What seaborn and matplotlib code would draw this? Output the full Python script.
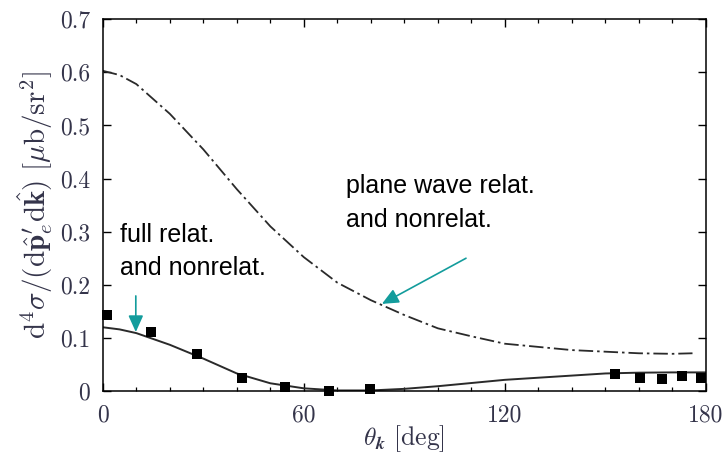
import matplotlib
matplotlib.use("Agg")
import matplotlib.pyplot as plt
import seaborn as sns
import pandas as pd
from matplotlib.ticker import MultipleLocator

# ---- data ----
theta_pw = [0, 5, 10, 20, 30, 40, 50, 60, 70, 80, 90, 100, 110, 120, 130, 140, 150, 160, 170, 176]
plane_wave = [0.603, 0.595, 0.578, 0.522, 0.455, 0.380, 0.310, 0.252, 0.204, 0.171, 0.143, 0.118,
              0.103, 0.089, 0.083, 0.077, 0.074, 0.071, 0.070, 0.071]

theta_full = [0, 5, 10, 20, 30, 40, 50, 60, 70, 80, 90, 100, 110, 120, 130, 140, 150, 160, 170, 180]
full_relat = [0.120, 0.116, 0.109, 0.087, 0.061, 0.033, 0.0145, 0.005, 0.001, 0.001, 0.004, 0.009,
              0.015, 0.021, 0.025, 0.029, 0.033, 0.0345, 0.035, 0.035]

theta_exp = [1.3, 14.5, 28, 41.4, 54.5, 67.5, 79.7, 153, 160.3, 167, 173, 178.5]
sigma_exp = [0.143, 0.112, 0.070, 0.025, 0.008, 0.000, 0.003, 0.032, 0.024, 0.022, 0.028, 0.025]

x_ticks = [0, 60, 120, 180]
y_ticks = [0, 0.1, 0.2, 0.3, 0.4, 0.5, 0.6, 0.7]
y_tick_labels = ["0", "0.1", "0.2", "0.3", "0.4", "0.5", "0.6", "0.7"]

label_full = ["full relat.", "and nonrelat."]
label_pw = ["plane wave relat.", "and nonrelat."]

# ---- style ----
sns.set_theme(style="ticks")
plt.rcParams["mathtext.fontset"] = "cm"
plt.rcParams["font.family"] = ["cmr10", "DejaVu Serif"]
plt.rcParams["axes.formatter.use_mathtext"] = True

TEAL = "#139c9c"
LABEL_COL = "#34344a"

fig = plt.figure(figsize=(7.24, 4.55), dpi=100)
ax = fig.add_axes([0.142, 0.1407, 0.833, 0.8169])

df_pw = pd.DataFrame({"theta": theta_pw, "sigma": plane_wave})
df_full = pd.DataFrame({"theta": theta_full, "sigma": full_relat})
df_exp = pd.DataFrame({"theta": theta_exp, "sigma": sigma_exp})

sns.lineplot(data=df_pw, x="theta", y="sigma", ax=ax, color="#2a2a2a", lw=1.3,
             linestyle=(0, (8, 2.2, 1.4, 2.2)), sort=False)
sns.lineplot(data=df_full, x="theta", y="sigma", ax=ax, color="#2a2a2a", lw=1.4, sort=False)
sns.scatterplot(data=df_exp, x="theta", y="sigma", ax=ax, marker="s", s=62, color="black",
                edgecolor="black", linewidth=0, zorder=5, clip_on=False)

ax.set_xlim(0, 180)
ax.set_ylim(0, 0.7)
ax.set_xticks(x_ticks)
ax.set_xticklabels([str(t) for t in x_ticks])
ax.xaxis.set_minor_locator(MultipleLocator(10))
ax.set_yticks(y_ticks)
ax.set_yticklabels(y_tick_labels)

for s in ax.spines.values():
    s.set_visible(True)
    s.set_linewidth(1.1)
    s.set_color("black")

ax.tick_params(which="both", direction="in", top=True, right=True, color="black")
ax.tick_params(which="major", length=5.8, width=1.0, labelsize=17, labelcolor=LABEL_COL)
ax.tick_params(axis="x", which="major", pad=10)
ax.tick_params(axis="y", which="major", pad=9)
ax.tick_params(which="minor", length=3, width=0.9)

ax.set_xlabel(r"$\theta_{\boldsymbol{k}}\ [\mathrm{deg}]$", fontsize=18.5, color=LABEL_COL, labelpad=-3)
ax.set_ylabel(r"$\mathrm{d}^4\sigma/(\mathrm{d}\hat{\mathbf{p}}_e^{\prime}\mathrm{d}\hat{\mathbf{k}})\ [\mu\mathrm{b}/\mathrm{sr}^2]$",
              fontsize=21, color=LABEL_COL, labelpad=4)

# annotations
ax.text(5.0, 0.281, label_full[0], fontsize=18, family=["Liberation Sans"], color="black", va="baseline")
ax.text(5.0, 0.218, label_full[1], fontsize=18, family=["Liberation Sans"], color="black", va="baseline")
ax.text(72.5, 0.372, label_pw[0], fontsize=18, family=["Liberation Sans"], color="black", va="baseline")
ax.text(72.5, 0.309, label_pw[1], fontsize=18, family=["Liberation Sans"], color="black", va="baseline")

arrow_kw = dict(arrowstyle="-|>,head_length=1.0,head_width=0.45", mutation_scale=10,
                lw=1.2, color=TEAL, shrinkA=0, shrinkB=0)
ax.annotate("", xy=(83.3, 0.164), xytext=(108.4, 0.250), arrowprops=arrow_kw)
ax.annotate("", xy=(9.85, 0.111), xytext=(9.85, 0.179), arrowprops=arrow_kw)

fig.savefig("out.png", dpi=100)
